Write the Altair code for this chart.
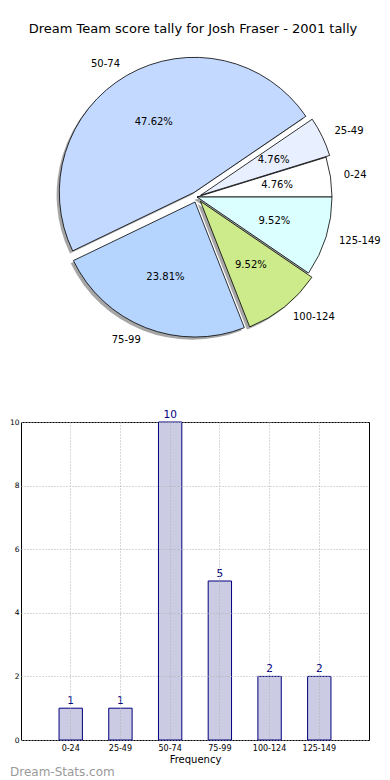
import math
import altair as alt
import pandas as pd

# ---------------- data ----------------
cats = ["0-24", "25-49", "50-74", "75-99", "100-124", "125-149"]
counts = [1, 1, 10, 5, 2, 2]
pie_colors = ["#ffffff", "#e8efff", "#c3d9ff", "#b5d5ff", "#cdeb8b", "#dbffff"]
explode = [0.0, 0.03, 0.04, 0.04, 0.04, 0.0]
y_ticks = [0, 2, 4, 6, 8, 10]

title_text = "Dream Team score tally for Josh Fraser - 2001 tally"
x_title = "Frequency"
watermark = "Dream-Stats.com"

# ---------------- layout / style ----------------
FONT = "DejaVu Sans"
R = 135
PLOT_W = 348
PIE_H = 400
BAR_H = 318
CX = 176
CY = 188

total = sum(counts)
rows = []
cum = 0
for c, n, e in zip(cats, counts, explode):
    start = cum / total
    cum += n
    end = cum / total
    mid = (start + end) / 2
    a = 2 * math.pi * mid
    ex = e * math.cos(a)
    ey = e * math.sin(a)
    rows.append(dict(cat=c, count=n, start=start, end=end, mid=mid,
                     ex=ex, ey=ey, sx=ex - 0.02, sy=ey - 0.02,
                     pct=f"{100 * n / total:.2f}%",
                     side="right" if math.cos(a) > 0 else "left"))
df = pd.DataFrame(rows)

theta_scale = alt.Scale(domain=[0, 1], range=[math.pi / 2 + 2 * math.pi, math.pi / 2])
x_sc = alt.Scale(domain=[-1, 1], range=[CX - R, CX + R])
y_sc = alt.Scale(domain=[-1, 1], range=[CY + R, CY - R])

base = alt.Chart(df)

shadow = base.mark_arc(radius=R, fill="#4d4d4d", opacity=0.5).encode(
    x=alt.X("sx:Q", scale=x_sc, axis=None),
    y=alt.Y("sy:Q", scale=y_sc, axis=None),
    theta=alt.Theta("start:Q", scale=theta_scale, stack=None),
    theta2="end:Q",
)

slices = base.mark_arc(radius=R, stroke="black", strokeWidth=0.8).encode(
    x=alt.X("ex:Q", scale=x_sc, axis=None),
    y=alt.Y("ey:Q", scale=y_sc, axis=None),
    theta=alt.Theta("start:Q", scale=theta_scale, stack=None),
    theta2="end:Q",
    color=alt.Color("cat:N", scale=alt.Scale(domain=cats, range=pie_colors), legend=None),
)

pct = base.mark_text(radius=0.6 * R, fontSize=10, font=FONT, color="black").encode(
    x=alt.X("ex:Q", scale=x_sc, axis=None),
    y=alt.Y("ey:Q", scale=y_sc, axis=None),
    theta=alt.Theta("mid:Q", scale=theta_scale, stack=None),
    text="pct:N",
)

lab_r = base.transform_filter(alt.datum.side == "right").mark_text(
    radius=1.1 * R, fontSize=10, font=FONT, color="black", align="left", baseline="middle"
).encode(
    x=alt.X("ex:Q", scale=x_sc, axis=None),
    y=alt.Y("ey:Q", scale=y_sc, axis=None),
    theta=alt.Theta("mid:Q", scale=theta_scale, stack=None),
    text="cat:N",
)

lab_l = base.transform_filter(alt.datum.side == "left").mark_text(
    radius=1.1 * R, fontSize=10, font=FONT, color="black", align="right", baseline="middle"
).encode(
    x=alt.X("ex:Q", scale=x_sc, axis=None),
    y=alt.Y("ey:Q", scale=y_sc, axis=None),
    theta=alt.Theta("mid:Q", scale=theta_scale, stack=None),
    text="cat:N",
)

title = alt.Chart(pd.DataFrame({"t": [title_text]})).mark_text(
    fontSize=13, font=FONT, color="black", baseline="middle"
).encode(text="t:N", x=alt.value(172), y=alt.value(20))

pie_panel = alt.layer(title, shadow, slices, pct, lab_r, lab_l).properties(
    width=PLOT_W, height=PIE_H, view={"stroke": "transparent"}
)

# ---------------- bar chart ----------------
bdf = pd.DataFrame({"cat": cats, "count": counts})

xb = alt.X(
    "cat:N", sort=cats,
    scale=alt.Scale(paddingInner=0.53, paddingOuter=0.765),
    axis=alt.Axis(title=x_title, labelAngle=0, bandPosition=0.5, grid=True,
                  gridDash=[1, 2], gridColor="#b0b0b0", ticks=False, domain=False,
                  labelFontSize=8, labelFont=FONT, labelColor="black", labelPadding=4,
                  titleFontSize=10, titleFont=FONT, titleFontWeight="normal",
                  titleColor="black", titlePadding=2, zindex=1),
)
yb = alt.Y(
    "count:Q",
    scale=alt.Scale(domain=[0, 10], nice=False),
    axis=alt.Axis(values=y_ticks, title=None, grid=True, gridDash=[1, 2],
                  gridColor="#b0b0b0", ticks=False, domain=False,
                  labelFontSize=7.5, labelFont=FONT, labelColor="black",
                  labelPadding=2, zindex=1),
)

bars = alt.Chart(bdf).mark_bar(fill="#cbcbe3", stroke="#000080", strokeWidth=1).encode(x=xb, y=yb)
vals = alt.Chart(bdf).mark_text(dy=-7, color="#000080", fontSize=10.5, font=FONT).encode(
    x=alt.X("cat:N", sort=cats), y="count:Q", text="count:Q"
)
wm = alt.Chart(pd.DataFrame({"t": [watermark]})).mark_text(
    align="left", baseline="middle", fontSize=12, font=FONT, color="#9a9a9a"
).encode(text="t:N", x=alt.value(-11), y=alt.value(350))

bar_panel = alt.layer(bars, vals, wm).properties(
    width=PLOT_W, height=BAR_H, view={"stroke": "black", "strokeWidth": 1}
)

chart = alt.vconcat(pie_panel, bar_panel, spacing=13, bounds="flush").properties(
    padding={"left": 0, "top": 0, "right": 0, "bottom": 0}, background="white"
).configure(padding={"left": 0, "top": 0, "right": 0, "bottom": 0})

chart.save("out.html", embed_options={"renderer": "svg", "actions": False})
